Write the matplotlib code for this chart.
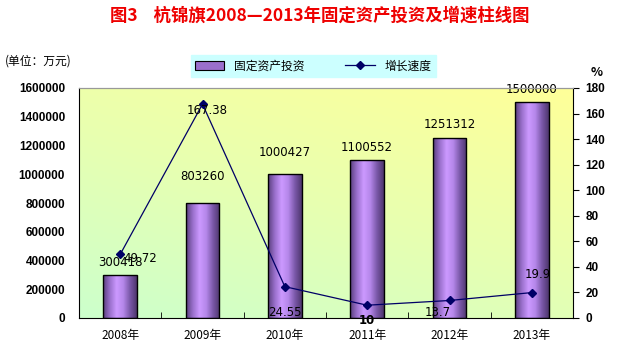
import numpy as np
import matplotlib
matplotlib.use('Agg')
import matplotlib.pyplot as plt
from matplotlib.colors import LinearSegmentedColormap
from matplotlib.patches import Patch
from matplotlib.lines import Line2D

plt.rcParams['font.family'] = ['Noto Sans CJK SC', 'DejaVu Sans']

# data
years = ['2008年', '2009年', '2010年', '2011年', '2012年', '2013年']
invest = [300418, 803260, 1000427, 1100552, 1251312, 1500000]
growth = [49.72, 167.38, 24.55, 10, 13.7, 19.9]
growth_labels = ['49.72', '167.38', '24.55', '10', '13.7', '19.9']

# label offsets in pixels (style only)
bar_off = [6, 20, 15, 6, 7, 6]
line_off = [(20, -4), (5, -6), (0, -26), (0, -15), (-12, -12), (6, 18)]

fig = plt.figure(figsize=(6.23, 3.58), dpi=100)
fig.patch.set_facecolor('white')
ax = fig.add_axes([79/623, 1-318/358, 494/623, 230/358])
ax2 = ax.twinx()

x = np.arange(len(years))
ax.set_xlim(-0.5, len(years)-0.5)
ax.set_ylim(0, 1600000)
ax2.set_ylim(0, 180)

# background gradient, green bottom-left to yellow top-right
gx, gy = np.meshgrid(np.linspace(0, 1, 200), np.linspace(0, 1, 200))
grad = (gx*0.5 + gy*0.8) / 1.3
bg_cmap = LinearSegmentedColormap.from_list('bg', ['#ccffcc', '#e8ffb0', '#ffff99'])
ax.imshow(grad, cmap=bg_cmap, origin='lower', aspect='auto',
          extent=[-0.5, len(years)-0.5, 0, 1600000], zorder=0)

# bars with cylinder shading
bars = ax.bar(x, invest, width=0.41, color='none', edgecolor='black', linewidth=1, zorder=3)
bar_cmap = LinearSegmentedColormap.from_list('bar', ['#5a3f7e', '#9a70cc', '#cc99ff', '#b587ea', '#7a58a8', '#4e366e'])
shade = np.linspace(0, 1, 100).reshape(1, -1)
for b in bars:
    x0, y0 = b.get_x(), b.get_y()
    im = ax.imshow(shade, cmap=bar_cmap, aspect='auto',
                   extent=[x0, x0 + b.get_width(), y0, y0 + b.get_height()], zorder=2)
    im.set_clip_path(b)
ax.set_xlim(-0.5, len(years)-0.5)
ax.set_ylim(0, 1600000)

for i, b in enumerate(bars):
    ax.annotate(str(invest[i]), (b.get_x() + b.get_width()/2, b.get_height()),
                xytext=(0, bar_off[i]), textcoords='offset pixels',
                ha='center', va='bottom', fontsize=8.5, family='DejaVu Sans', zorder=5)

# growth line
ax2.plot(x, growth, color='#000066', linewidth=0.9, marker='D', markersize=4, zorder=4)
for i in range(len(x)):
    ax2.annotate(growth_labels[i], (x[i], growth[i]), xytext=line_off[i],
                 textcoords='offset pixels', ha='center', va='center',
                 fontsize=8.5, family='DejaVu Sans',
                 fontweight='bold' if growth_labels[i] == '10' else 'normal', zorder=6)

# axes styling
ax.set_yticks(np.arange(0, 1600001, 200000))
ax.set_yticklabels([str(v) for v in range(0, 1600001, 200000)],
                   fontweight='bold', family='Liberation Sans', fontsize=8.5)
ax2.set_yticks(np.arange(0, 181, 20))
ax2.set_yticklabels([str(v) for v in range(0, 181, 20)],
                    fontweight='bold', family='Liberation Sans', fontsize=8.5)
ax.set_xticks(x)
ax.set_xticklabels(years, fontsize=8.5)
ax.set_xticks(np.arange(-0.5, len(years), 1), minor=True)
ax.tick_params(axis='x', which='major', length=0, pad=8)
ax.tick_params(axis='x', which='minor', length=4, direction='in')
ax.tick_params(axis='y', length=0, pad=10)
ax2.tick_params(axis='y', length=4, direction='out', pad=5)
for sp in ['left', 'bottom']:
    ax.spines[sp].set_color('black')
ax.spines['top'].set_color('#999999')
ax2.spines['top'].set_color('#999999')
ax.spines['right'].set_visible(False)
ax2.spines['right'].set_color('black')
ax2.spines['left'].set_visible(False)
ax2.spines['bottom'].set_visible(False)

# title and side labels
fig.text(0.513, 1-16/358, '图3    杭锦旗2008—2013年固定资产投资及增速柱线图', ha='center', va='center',
         color='#ee0000', fontsize=12.5, fontweight='bold')
fig.text(5/623, 1-61/358, '(单位：万元)', ha='left', va='center', fontsize=8.5)
fig.text(597/623, 1-73/358, '%', ha='center', va='center', fontsize=9, fontweight='bold')

# legend
handles = [Patch(facecolor='#9a70cc', edgecolor='black', linewidth=0.8),
           Line2D([0], [0], color='#000066', marker='D', markersize=4, linewidth=0.9)]
leg = fig.legend(handles, ['固定资产投资', '增长速度'], loc='center', ncol=2,
                 bbox_to_anchor=(313/623, 1-66/358), fontsize=8.5, frameon=True,
                 fancybox=False, borderpad=0.35, columnspacing=3.5, handlelength=2.5)
leg.get_frame().set_facecolor('#ccffff')
leg.get_frame().set_edgecolor('#ccffff')
leg.get_frame().set_alpha(1)

fig.savefig('out.png', dpi=100)
